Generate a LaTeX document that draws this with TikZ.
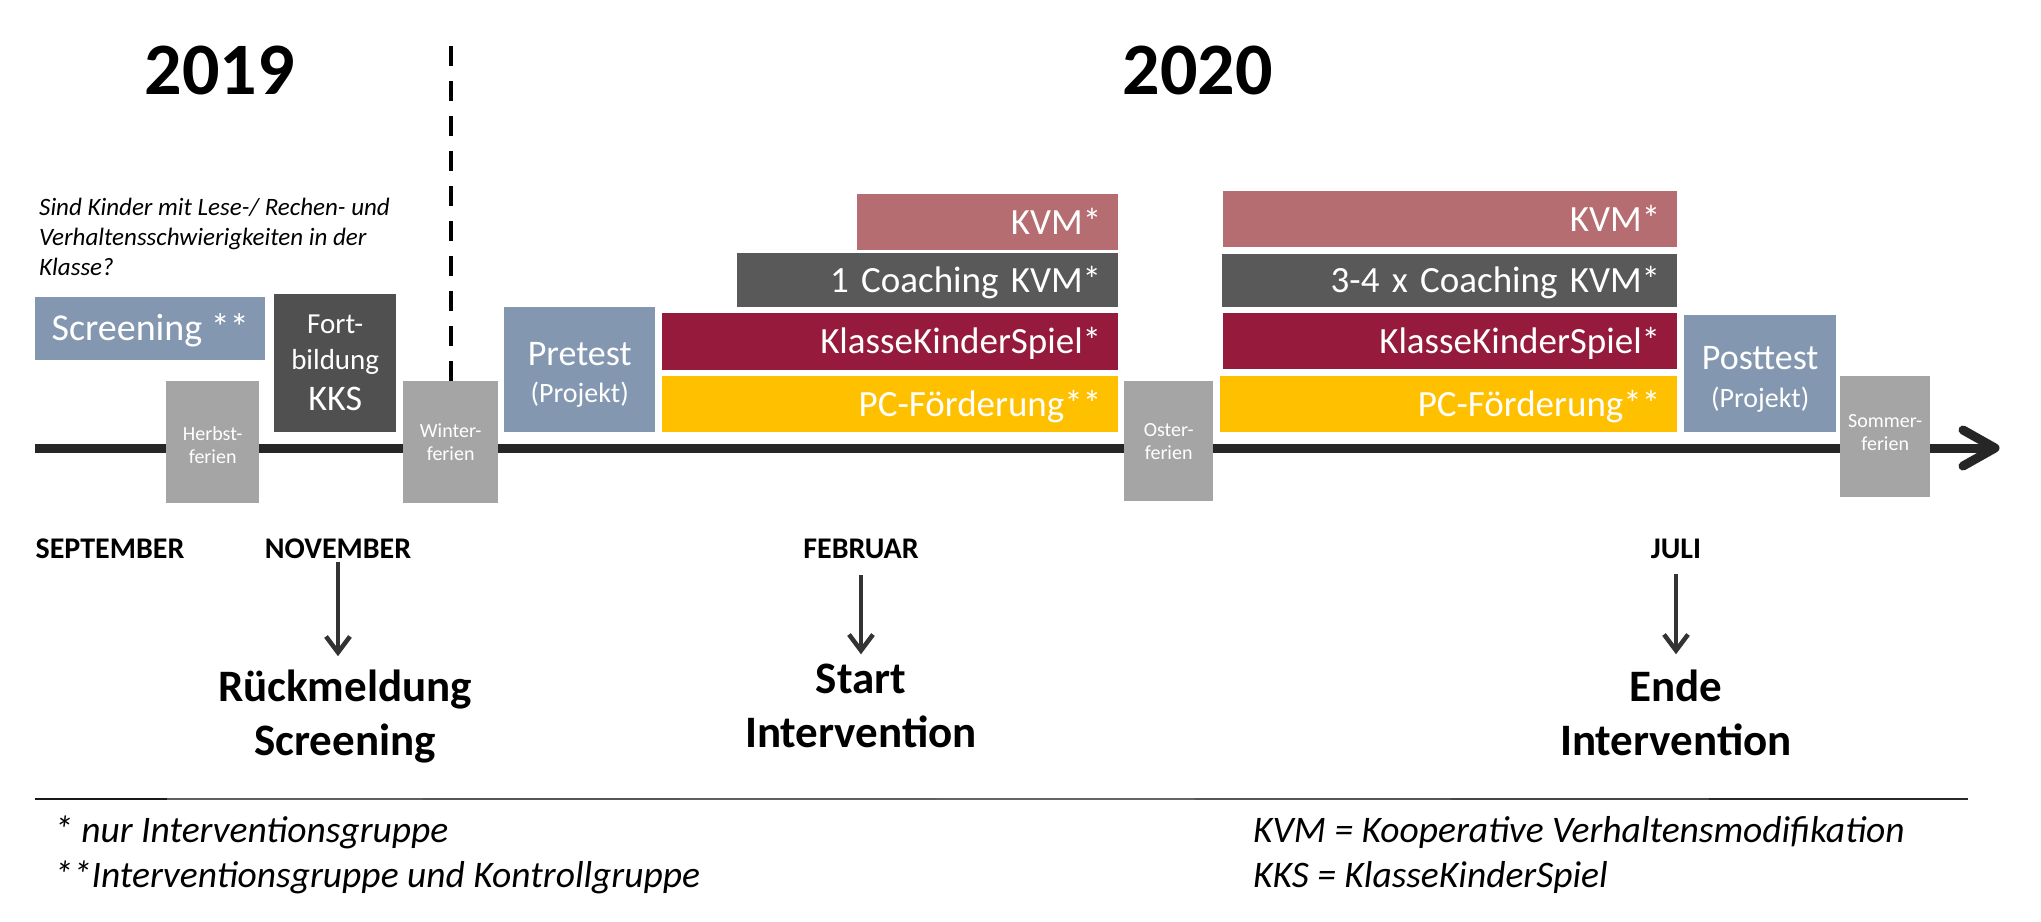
\documentclass[tikz,border=0pt]{standalone}
\usepackage{fontspec}
\setmainfont{Carlito}
\usetikzlibrary{arrows.meta}
\definecolor{bluegrey}{HTML}{8497B0}
\definecolor{darkbox}{HTML}{505050}
\definecolor{coachc}{HTML}{595959}
\definecolor{ferienc}{HTML}{A5A5A5}
\definecolor{kvmc}{HTML}{B66D71}
\definecolor{kksc}{HTML}{951A3B}
\definecolor{pcc}{HTML}{FFC000}
\definecolor{axisc}{HTML}{262626}
\definecolor{arrowc}{HTML}{333333}
\newcommand{\fsz}[2]{\fontsize{#1}{#2}\selectfont}
\begin{document}
\begin{tikzpicture}[x=1pt,y=-1pt,
  bar/.style={fill=#1, text=white, inner xsep=17pt, inner ysep=0pt, align=right,
    anchor=north west, font=\fsz{37}{40}, text height=24pt, text depth=0pt},
  tbox/.style={fill=#1, text=white, inner sep=0pt, align=center, anchor=north west},
  ferienbox/.style={tbox=ferienc, font=\fsz{20}{23}},
  month/.style={font=\bfseries\fsz{30}{32}, anchor=base, inner sep=0pt},
  result/.style={font=\bfseries\fsz{45}{54}, anchor=base, inner sep=0pt},
  note/.style={font=\itshape\fsz{37.5}{45}, anchor=base west, inner sep=0pt},
  yearlabel/.style={font=\bfseries\fsz{74}{80}, anchor=base, inner sep=0pt},
  downarrow/.style={draw=arrowc, line width=4.5pt, -{Straight Barb[length=16pt,width=24pt]}},
]
\useasboundingbox (0,0) rectangle (2041,921);

% timeline
\coordinate (tlstart) at (35,448);
\coordinate (tltip) at (1995,448);
\draw[axisc, line width=9pt] (tlstart) -- (1990,448);
\draw[axisc, line width=9pt, line cap=round, line join=round] (1963,430) -- (tltip) -- (1963,466);

% years
\node[yearlabel] (y2019) at (219.5,94) {2019};
\node[yearlabel] (y2020) at (1197.5,94) {2020};

% question
\node[anchor=north west, inner sep=0pt, align=left, font=\itshape\fsz{25}{30}] (question) at (39,198)
  {Sind Kinder mit Lese-/ Rechen- und\\Verhaltensschwierigkeiten in der\\Klasse?};

% boxes
\node[tbox=bluegrey, minimum width=230pt, minimum height=63pt, font=\fsz{38}{40},
  text height=24.5pt, text depth=0pt] (screen) at (35,297) {Screening **};
\node[tbox=darkbox, minimum width=122pt, minimum height=138pt, font=\fsz{29}{36}] (fortb) at (274,294)
  {Fort-\\bildung\\[5pt]\fsz{36}{36}KKS};
\node[ferienbox, minimum width=93pt, minimum height=122pt] (herbst) at (166,381) {\rule{0pt}{19pt}Herbst-\\ferien};
\node[ferienbox, minimum width=95pt, minimum height=122pt] (winter) at (403,381) {Winter-\\ferien};
\node[ferienbox, minimum width=89pt, minimum height=120pt] (oster) at (1124,381) {Oster-\\ferien};
\node[ferienbox, minimum width=90pt, minimum height=121pt] (sommer) at (1840,376) {Sommer-\\ferien\rule[-8pt]{0pt}{8pt}};
\node[tbox=bluegrey, minimum width=151pt, minimum height=125pt, font=\fsz{36}{37}] (pre) at (504,307)
  {\rule{0pt}{33pt}Pretest\\\fsz{28}{37}(Projekt)};
\node[tbox=bluegrey, minimum width=152pt, minimum height=117pt, font=\fsz{36}{38}] (post) at (1684,315)
  {\rule{0pt}{35pt}Posttest\\\fsz{28}{38}(Projekt)};

% bars first phase
\node[bar=kvmc, text width=227pt, minimum height=56pt] (kvm1) at (857,194) {KVM*};
\node[bar=coachc, text width=347pt, minimum height=54pt] (coach1) at (737,253) {1 Coaching KVM*};
\node[bar=kksc, text width=422pt, minimum height=57pt] (kks1) at (662,313) {KlasseKinderSpiel*};
\node[bar=pcc, text width=422pt, minimum height=56pt] (pc1) at (662,376) {PC-Förderung**};
% bars second phase
\node[bar=kvmc, text width=420pt, minimum height=56pt] (kvm2) at (1223,191) {KVM*};
\node[bar=coachc, text width=421pt, minimum height=53pt] (coach2) at (1222,254) {3-4 x Coaching KVM*};
\node[bar=kksc, text width=420pt, minimum height=56pt] (kks2) at (1223,313) {KlasseKinderSpiel*};
\node[bar=pcc, text width=423pt, minimum height=56pt] (pc2) at (1220,376) {PC-Förderung**};

% dashed year separator
\draw[black, line width=4pt, dash pattern=on 20pt off 15pt] (winter.north) -- ++(0,-335);

% months
\node[month] (sep) at (110,558) {SEPTEMBER};
\node[month] (nov) at (338,558) {NOVEMBER};
\node[month] (feb) at (861,558) {FEBRUAR};
\node[month] (jul) at (1676,558) {JULI};

% results
\node[result] (rueck) at (345,701) {Rückmeldung};
\node[result] (rueckb) at (345,755) {Screening};
\node[result] (start) at (861,693) {Start};
\node[result] (startb) at (861,747) {Intervention};
\node[result] (ende) at (1676,701) {Ende};
\node[result] (endeb) at (1676,755) {Intervention};

\draw[downarrow, shorten <=4pt, shorten >=13pt] (nov.south) -- (nov.south |- rueck.north);
\draw[downarrow, shorten <=17pt, shorten >=9pt] (feb.south) -- (feb.south |- start.north);
\draw[downarrow, shorten <=16pt, shorten >=15pt] (jul.south) -- (jul.south |- ende.north);

% rule (greyer in the middle, dark at the ends)
\foreach \xa/\xb/\g in {35/167/25, 167/423/95, 423/680/85, 680/937/95, 937/1195/100, 1195/1451/85, 1451/1709/70, 1709/1968/40}{
  \definecolor{segc}{RGB}{\g,\g,\g}
  \draw[segc, line width=2.4pt] (\xa,799) -- (\xb,799);
}
\node[note] (n1) at (54,842) {* nur Interventionsgruppe};
\node[note] (n2) at (54,887) {**Interventionsgruppe und Kontrollgruppe};
\node[note] (n3) at (1253,842) {KVM = Kooperative Verhaltensmodifikation};
\node[note] (n4) at (1253,887) {KKS = KlasseKinderSpiel};
\end{tikzpicture}
\end{document}
